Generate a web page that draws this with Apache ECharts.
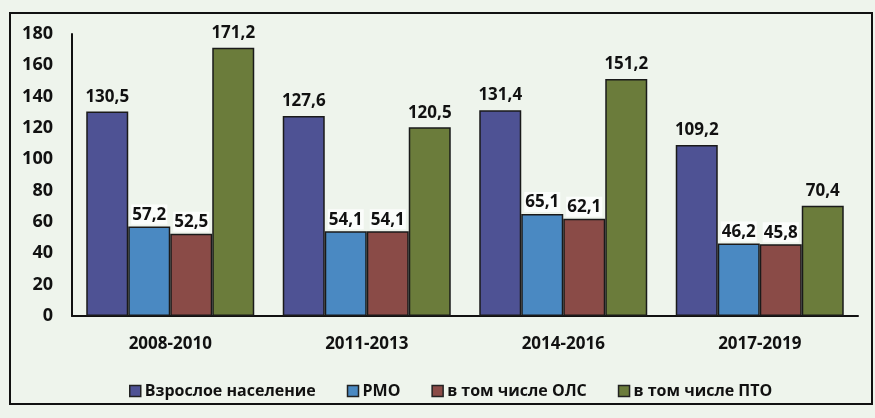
<!DOCTYPE html>
<html>
<head>
<meta charset="utf-8">
<script src="https://cdn.jsdelivr.net/npm/echarts@6/dist/echarts.min.js"></script>
<style>
  html, body { margin: 0; padding: 0; background: #eef4ec; }
  #chart { width: 875px; height: 418px; }
</style>
</head>
<body>
<div id="chart"></div>
<script>
// Periods on the category axis
const periods = ['2008-2010', '2011-2013', '2014-2016', '2017-2019'];

// Series names and values per period
const seriesNames = ['Взрослое население', 'РМО', 'в том числе ОЛС', 'в том числе ПТО'];
const adultPopulation = [130.5, 127.6, 131.4, 109.2];
const rmo = [57.2, 54.1, 65.1, 46.2];
const ols = [52.5, 54.1, 62.1, 45.8];
const pto = [171.2, 120.5, 151.2, 70.4];

// Value axis ticks
const yTicks = [0, 20, 40, 60, 80, 100, 120, 140, 160, 180];

const colors = ['#4e5294', '#4a89c2', '#8a4b47', '#6b7c3b'];
const font = '"Open Sans", "DejaVu Sans", sans-serif';

function fmt(v) { return String(v.toFixed(1)).replace('.', ','); }

function makeSeries(name, data, color, boxed) {
  return {
    name: name,
    type: 'bar',
    data: data,
    barGap: '0%',
    barCategoryGap: '14.5%',
    itemStyle: { color: color, borderColor: '#1a1a1a', borderWidth: 1.5 },
    label: {
      show: true,
      position: 'top',
      distance: boxed ? 2 : 6,
      color: '#111',
      fontFamily: font,
      fontWeight: 'bold',
      fontSize: 17,
      backgroundColor: boxed ? '#fbfdfb' : 'transparent',
      padding: boxed ? [2, 1, 1, 1] : 0,
      formatter: p => fmt(p.value)
    }
  };
}

const chart = echarts.init(document.getElementById('chart'));
chart.setOption({
  backgroundColor: '#eef4ec',
  animation: false,
  graphic: [{
    type: 'rect',
    shape: { x: 10, y: 13, width: 862, height: 391 },
    style: { fill: 'none', stroke: '#111', lineWidth: 2 },
    z: -1
  }],
  grid: { left: 72, right: 17, top: 34, bottom: 102 },
  legend: {
    data: seriesNames,
    left: 124,
    top: 378,
    icon: 'rect',
    itemWidth: 11,
    itemHeight: 11,
    itemGap: 31,
    itemStyle: { borderColor: '#222', borderWidth: 1.5 },
    textStyle: { fontFamily: font, fontWeight: 'bold', fontSize: 16, color: '#111', padding: [0, 0, 0, -1] }
  },
  xAxis: {
    type: 'category',
    data: periods,
    axisLine: { lineStyle: { color: '#111', width: 2 } },
    axisTick: { show: false },
    axisLabel: { fontFamily: font, fontWeight: 'bold', fontSize: 17, color: '#111', margin: 20 }
  },
  yAxis: {
    type: 'value',
    min: yTicks[0],
    max: yTicks[yTicks.length - 1],
    interval: yTicks[1] - yTicks[0],
    axisLine: { show: true, lineStyle: { color: '#111', width: 2 } },
    axisTick: { show: false },
    splitLine: { show: false },
    axisLabel: { fontFamily: font, fontWeight: 'bold', fontSize: 18, color: '#111', margin: 19 }
  },
  series: [
    makeSeries(seriesNames[0], adultPopulation, colors[0], false),
    makeSeries(seriesNames[1], rmo, colors[1], true),
    makeSeries(seriesNames[2], ols, colors[2], true),
    makeSeries(seriesNames[3], pto, colors[3], false)
  ]
});
</script>
</body>
</html>
